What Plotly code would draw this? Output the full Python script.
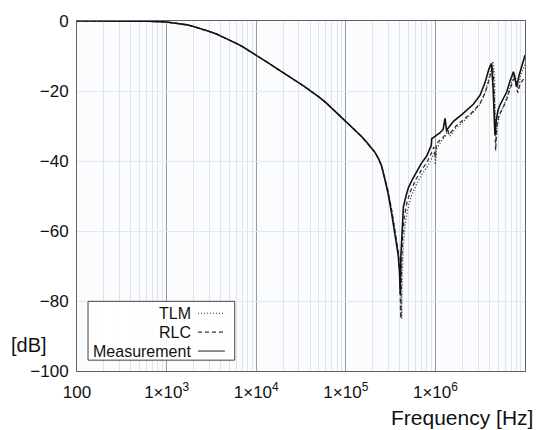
import plotly.graph_objects as go

# ---------------- data ----------------
# common low-frequency part (all three curves coincide)
low_f = [100, 300, 600, 1000, 1300, 1700, 2000, 2500, 3000, 3600, 4300, 5100,
         6000, 7000, 8000, 9200, 11000, 14300, 17000, 20000, 24000, 28000, 34000,
         41000, 50000, 60000, 75000, 100000, 125000, 150000, 170000, 190000,
         210000, 230000, 250000]
low_db = [0, 0, -0.08, -0.3, -0.6, -1.1, -1.6, -2.3, -3.0, -3.7, -4.6, -5.4,
          -6.4, -7.3, -8.2, -9.2, -10.5, -12.3, -13.6, -14.7, -16.0, -17.2, -18.6,
          -20.0, -21.7, -23.3, -25.6, -28.6, -31.0, -33.0, -34.6, -36.0,
          -37.4, -39.2, -41.3]

meas_f = [270e3, 295e3, 325e3, 355e3, 385e3, 398e3, 405e3, 412e3, 425e3, 440e3,
          470e3, 500e3, 560e3, 620e3, 700e3, 800e3, 860e3, 900e3, 910e3, 1.0e6,
          1.12e6, 1.22e6, 1.28e6, 1.33e6, 1.6e6, 2.0e6, 2.65e6, 3.15e6, 3.58e6, 3.97e6,
          4.23e6, 4.4e6, 4.62e6, 4.8e6, 5.0e6, 5.26e6, 5.6e6, 6.25e6, 6.8e6, 7.42e6,
          7.75e6, 8.08e6, 8.6e6, 9.3e6, 10e6]
meas_db = [-44.8, -49, -55, -61, -67, -72, -78, -67, -58, -53,
           -50, -47.6, -45, -42.9, -40.6, -38.6, -36.8, -35.5, -33.6, -32.9,
           -32.0, -31.0, -27.8, -31.2, -28.6, -26.6, -23.8, -21.2, -17.6, -13.6,
           -12.1, -19, -32.5, -28, -25.5, -24, -22.8, -20.3, -17.2, -14.5,
           -16.5, -18.8, -15.5, -12.5, -9.8]

rlc_f = [270e3, 295e3, 325e3, 355e3, 385e3, 400e3, 410e3, 418e3, 430e3, 450e3,
         480e3, 520e3, 600e3, 700e3, 800e3, 900e3, 960e3, 1.0e6, 1.03e6, 1.15e6,
         1.3e6, 1.36e6, 1.42e6, 1.7e6, 2.0e6, 2.65e6, 3.15e6, 3.6e6, 4.0e6, 4.35e6,
         4.5e6, 4.7e6, 4.85e6, 5.1e6, 5.5e6, 6.25e6, 6.8e6, 7.5e6, 7.9e6, 8.3e6,
         8.8e6, 9.4e6, 10e6]
rlc_db = [-44.5, -48.5, -54, -60, -66, -72, -85, -70, -62, -56,
          -52, -49, -45.5, -42.5, -40.5, -37.8, -36.0, -39, -35.0, -33.8,
          -32.5, -30.5, -32.5, -30.0, -28.5, -25.8, -23.5, -20.5, -16.5, -13.0,
          -18, -37, -30, -27, -25.5, -22.5, -19.5, -16.5, -18, -20.5,
          -18, -17, -16]

tlm_f = [270e3, 295e3, 325e3, 355e3, 385e3, 405e3, 420e3, 428e3, 440e3, 460e3,
         490e3, 540e3, 620e3, 720e3, 820e3, 920e3, 980e3, 1.0e6, 1.03e6, 1.15e6,
         1.28e6, 1.38e6, 1.45e6, 1.7e6, 2.0e6, 2.65e6, 3.15e6, 3.6e6, 4.0e6, 4.4e6,
         4.55e6, 4.75e6, 4.9e6, 5.2e6, 5.6e6, 6.25e6, 6.8e6, 7.6e6, 8.0e6, 8.4e6,
         8.9e6, 9.5e6, 10e6]
tlm_db = [-44.5, -48.5, -54, -60, -66, -73, -85, -72, -64, -58,
          -54, -50, -46.5, -43.5, -41.5, -39, -37.5, -41, -36.5, -34.5,
          -33, -31.5, -33, -30.5, -29, -26, -23.8, -20.5, -16, -11.5,
          -15, -35, -30, -27, -25, -22, -19, -15, -17, -19.5,
          -15.5, -14, -12.5]

x_tickvals = [1e2, 1e3, 1e4, 1e5, 1e6, 1e7]
x_ticktext = ["100", "1×10<sup>3</sup>", "1×10<sup>4</sup>", "1×10<sup>5</sup>",
              "1×10<sup>6</sup>", "1×10<sup>7</sup>"]
y_tickvals = [0, -20, -40, -60, -80, -100]
y_ticktext = ["0", "\u221220", "\u221240", "\u221260", "\u221280", "\u2212100"]
minor_vals = [m * 10 ** d for d in range(2, 7) for m in range(2, 10)]

legend_names = ["TLM", "RLC", "Measurement"]
legend_dash = ["1px,2px", "4px,3px", "solid"]

FONT = "Arial, Liberation Sans, sans-serif"

fig = go.Figure()
fig.add_trace(go.Scatter(x=low_f + tlm_f, y=low_db + tlm_db, mode="lines", name="TLM",
                         line=dict(color="#333333", width=1.3, dash="1px,2px")))
fig.add_trace(go.Scatter(x=low_f + rlc_f, y=low_db + rlc_db, mode="lines", name="RLC",
                         line=dict(color="#333333", width=1.3, dash="4px,3px")))
fig.add_trace(go.Scatter(x=low_f + meas_f, y=low_db + meas_db, mode="lines", name="Measurement",
                         line=dict(color="#111111", width=1.6)))

fig.update_layout(
    width=544, height=430,
    margin=dict(l=77, r=19, t=19, b=59),
    paper_bgcolor="white", plot_bgcolor="#fbfcfd",
    showlegend=False,
    font=dict(family=FONT, color="#111111"),
    xaxis=dict(type="log", range=[2, 7], tickmode="array", tickvals=x_tickvals,
               ticktext=x_ticktext, tickfont=dict(size=17), showgrid=True,
               gridcolor="#979ca3", gridwidth=1, zeroline=False, ticklabelstandoff=6,
               showline=True, linecolor="#5f646b", linewidth=1, mirror=True, ticks="",
               minor=dict(tickmode="array", tickvals=minor_vals, showgrid=True,
                          gridcolor="#dfe4ec", gridwidth=1, ticks="")),
    yaxis=dict(range=[-100, 0], tickmode="array", tickvals=y_tickvals,
               ticktext=y_ticktext, tickfont=dict(size=17), showgrid=True,
               gridcolor="#e3e7ee", gridwidth=1, zeroline=False, ticklabelstandoff=4,
               showline=True, linecolor="#5f646b", linewidth=1, mirror=True, ticks=""),
)

# axis titles
fig.add_annotation(text="Frequency [Hz]", xref="paper", yref="paper", x=1, y=0,
                   xanchor="right", yanchor="middle", xshift=10, yshift=-46,
                   showarrow=False, font=dict(size=21, family=FONT, color="#111111"))
fig.add_annotation(text="[dB]", xref="paper", yref="paper", x=0, y=0,
                   xanchor="right", yanchor="middle", xshift=-28, yshift=26,
                   showarrow=False, font=dict(size=20, family=FONT, color="#111111"))

# custom legend (labels right-aligned, samples on the right)
fig.add_shape(type="rect", xref="paper", yref="paper", x0=0.0246, x1=0.352,
              y0=0.031, y1=0.199, line=dict(color="#444444", width=1),
              fillcolor="rgba(255,255,255,0.9)")
row_y = [0.165, 0.111, 0.057]
for name, dash, yy in zip(legend_names, legend_dash, row_y):
    fig.add_annotation(text=name, xref="paper", yref="paper", x=0.259, y=yy,
                       xanchor="right", yanchor="middle", showarrow=False,
                       font=dict(size=16, family=FONT, color="#111111"))
    fig.add_shape(type="line", xref="paper", yref="paper", x0=0.27, x1=0.33,
                  y0=yy, y1=yy, line=dict(color="#333333", width=1.1, dash=dash))

fig.write_html("out.html")
